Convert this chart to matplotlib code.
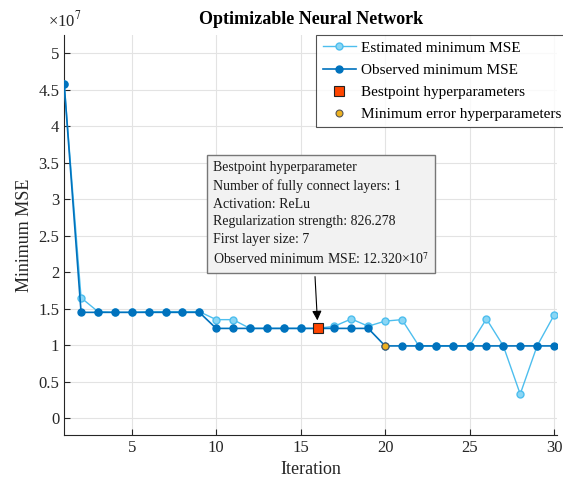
import matplotlib.pyplot as plt

iterations = list(range(1, 31))
observed_mse = [4.58, 1.45, 1.45, 1.45, 1.45, 1.45, 1.45, 1.45, 1.45,
                1.23, 1.23, 1.23, 1.23, 1.23, 1.23, 1.23, 1.23, 1.23, 1.23,
                0.99, 0.99, 0.99, 0.99, 0.99, 0.99, 0.99, 0.99, 0.99, 0.99, 0.99]
estimated_mse = [4.58, 1.65, 1.46, 1.45, 1.45, 1.46, 1.46, 1.46, 1.46,
                 1.35, 1.35, 1.23, 1.23, 1.23, 1.23, 1.23, 1.26, 1.36, 1.26,
                 1.33, 1.35, 0.99, 0.99, 0.99, 0.99, 1.36, 0.99, 0.33, 0.99, 1.41]
best_iter, best_mse = 16, 1.232
minerr_iter, minerr_mse = 20, 0.99

info_lines = [
    "Bestpoint hyperparameter",
    "Number of fully connect layers: 1",
    "Activation: ReLu",
    "Regularization strength: 826.278",
    "First layer size: 7",
    "Observed minimum MSE: 12.320×10$^7$",
]

plt.rcParams['font.family'] = ['Liberation Serif', 'DejaVu Serif']
plt.rcParams['mathtext.fontset'] = 'stix'

fig = plt.figure(figsize=(5.63, 4.86), dpi=100)
ax = fig.add_axes([0.114, 0.105, 0.876, 0.823])

light = '#4DBEEE'
dark = '#0072BD'

ax.plot(iterations, estimated_mse, '-o', color=light, lw=1, ms=5,
        mfc='#8AD6F5', mec=light, label='Estimated minimum MSE', zorder=3)
ax.plot(iterations, observed_mse, '-o', color=dark, lw=1.2, ms=5,
        mfc=dark, mec=dark, label='Observed minimum MSE', zorder=4)
ax.plot([best_iter], [best_mse], 's', ms=7, mfc='#FF4500', mec='#222222',
        mew=0.8, ls='none', label='Bestpoint hyperparameters', zorder=6)
ax.plot([minerr_iter], [minerr_mse], 'o', ms=5, mfc='#EDB120', mec='#555555',
        mew=0.8, ls='none', label='Minimum error hyperparameters', zorder=6)

ax.set_xlim(1, 30.2)
ax.set_ylim(-0.23, 5.25)
ax.set_xticks([5, 10, 15, 20, 25, 30])
ax.set_yticks([0, 0.5, 1, 1.5, 2, 2.5, 3, 3.5, 4, 4.5, 5])
ax.set_yticklabels(['0', '0.5', '1', '1.5', '2', '2.5', '3', '3.5', '4', '4.5', '5'])
ax.tick_params(direction='in', labelsize=12, colors='#262626', length=4)
ax.grid(True, color='#e3e3e3', lw=0.8)
ax.set_axisbelow(True)
for side in ['top', 'right']:
    ax.spines[side].set_visible(False)
for side in ['left', 'bottom']:
    ax.spines[side].set_color('#262626')

ax.set_xlabel('Iteration', fontsize=13, color='#262626')
ax.set_ylabel('Minimum MSE', fontsize=13, color='#262626')
ax.set_title('Optimizable Neural Network', fontsize=13, fontweight='bold', pad=8)
fig.text(0.085, 0.945, '×10$^7$', fontsize=12, color='#262626')

leg = ax.legend(loc='upper right', fontsize=11, frameon=True, fancybox=False,
                edgecolor='#262626', handlelength=2.2, borderpad=0.4,
                labelspacing=0.55, handletextpad=0.3, borderaxespad=0.0,
                bbox_to_anchor=(1.02, 1.0))
leg.get_frame().set_linewidth(0.8)

ax.annotate('\n'.join(info_lines), xy=(best_iter, best_mse + 0.07),
            xytext=(9.8, 2.07), fontsize=10, linespacing=1.45,
            color='#1a1a1a', va='bottom', ha='left',
            bbox=dict(boxstyle='square,pad=0.45', fc='#f2f2f2', ec='#777777', lw=1),
            arrowprops=dict(arrowstyle='-|>', color='black', lw=0.8,
                            mutation_scale=14, relpos=(0.47, 0.0)),
            zorder=7)

fig.savefig('out.png', dpi=100)
